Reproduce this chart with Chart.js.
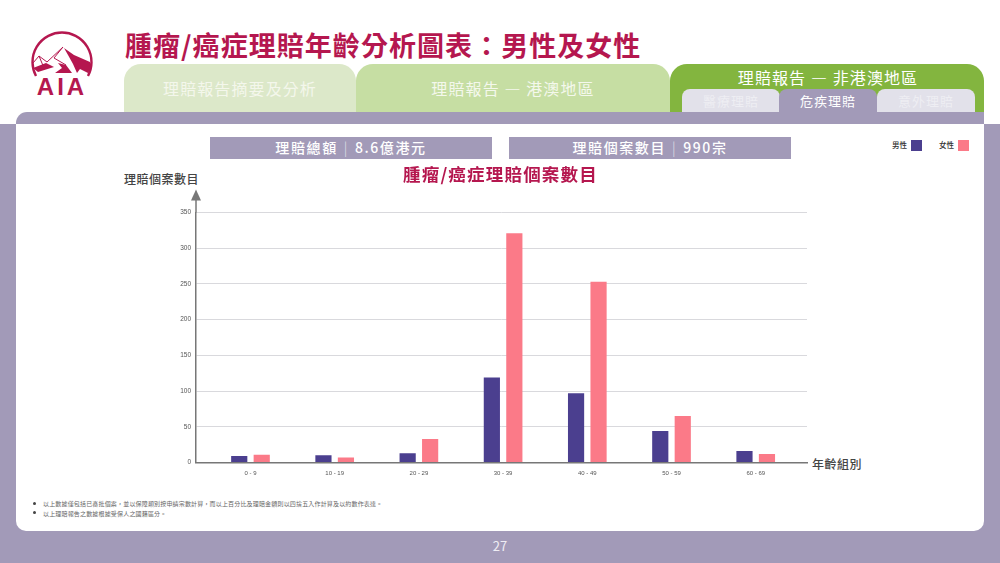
<!DOCTYPE html>
<html lang="zh-Hant">
<head>
<meta charset="utf-8">
<title>腫瘤/癌症理賠年齡分析圖表</title>
<script src="https://cdn.jsdelivr.net/npm/chart.js@4"></script>
<style>
  html, body { margin: 0; padding: 0; background: #fff; }
  body { width: 1000px; height: 563px; position: relative; overflow: hidden;
         font-family: "Noto Sans CJK TC", "Noto Sans", sans-serif; }
  .abs { position: absolute; white-space: nowrap; }
  .bg { left: 0; top: 124px; width: 1000px; height: 439px; background: #a29ab8; }
  .band { left: 16px; top: 112px; width: 968px; height: 20px; background: #a29ab8; border-radius: 11px 0 0 0; }
  .panel { left: 16px; top: 124px; width: 968px; height: 407px; background: #fff; border-radius: 0 0 10px 10px; }
  .title { left: 125px; top: 26px; font-size: 27px; line-height: 38px; font-weight: 700; color: #b5174f; letter-spacing: 1.05px; }
  .tab { text-align: center; color: #fff; border-radius: 17px 17px 0 0; }
  .t1 { left: 124px; top: 64px; width: 232px; height: 48px; line-height: 49px; background: #dce8c9; font-size: 16px; letter-spacing: 1.1px; color: #f4f7ec; }
  .t2 { left: 356px; top: 64px; width: 314px; height: 48px; line-height: 49px; background: #c6dea3; font-size: 16px; letter-spacing: 1.1px; color: #f4f8ec; }
  .t3 { left: 670px; top: 64px; width: 314px; height: 48px; line-height: 26px; background: #83b53f; font-size: 16px; letter-spacing: 1.1px; text-indent: 2px; }
  .sub { top: 89px; height: 23px; width: 98px; line-height: 23px; text-align: center; font-size: 13px; letter-spacing: 1px; border-radius: 8px 8px 0 0; background: #e2e1ea; color: #eeeef3; }
  .sub.on { background: #a29ab8; color: #fff; }
  .stat { top: 137px; height: 22px; line-height: 21px; background: #a29ab8; color: #fff; text-align: center; font-size: 14px; font-weight: 500; letter-spacing: 1.6px; }
  .stat i { font-style: normal; font-weight: 300; opacity: .7; margin: 0 6px; }
  .chartTitle { left: 403px; top: 161px; font-size: 17.5px; line-height: 26px; font-weight: 700; color: #b5174f; letter-spacing: 1.2px; }
  .leg { top: 139px; font-size: 7.5px; font-weight: 500; line-height: 12px; color: #333; }
  .swatch { top: 140px; width: 11px; height: 11px; }
  .axis { font-size: 12px; font-weight: 500; line-height: 16px; color: #444; letter-spacing: 0.5px; }
  .note { left: 43px; font-size: 6px; line-height: 9px; color: #666; letter-spacing: 0.17px; }
  .dot { left: 33px; width: 3px; height: 3px; border-radius: 50%; background: #444; }
  .page { left: 480px; top: 537px; width: 40px; text-align: center; font-size: 13px; line-height: 18px; color: #efedf4; }
  #chartBox { left: 0; top: 160px; width: 1000px; height: 320px; }
  #logo { left: 30px; top: 31px; }
</style>
</head>
<body>
<div class="abs bg"></div>
<div class="abs band"></div>
<div class="abs panel"></div>

<svg id="logo" class="abs" width="64" height="68" viewBox="0 0 64 68">
  <path d="M6 45 A29.5 29.5 0 1 1 58 45" fill="none" stroke="#b5174f" stroke-width="2.4"/>
  <path d="M3 32 L9 25 L17 31 L33 16 M9 25 L14 37 M33 16 L24 27 L36 34" fill="none" stroke="#b5174f" stroke-width="1"/>
  <path d="M34 17 L44 24 L60 31 L62 36 L58 42 L50 38 L47 42 L43 33 L38 24 Z" fill="#b5174f"/>
  <path d="M3 37 L16 32 L24 36 L8 41 Z M25 42 L32 37 L28 32 L36 34 L42 42 Z" fill="#b5174f"/>
  <text x="32" y="64" text-anchor="middle" font-family="Liberation Sans" font-weight="700" font-size="24" letter-spacing="3" fill="#b5174f">AIA</text>
</svg>

<div class="abs title">腫瘤/癌症理賠年齡分析圖表：男性及女性</div>
<div class="abs tab t1">理賠報告摘要及分析</div>
<div class="abs tab t2">理賠報告 — 港澳地區</div>
<div class="abs tab t3">理賠報告 — 非港澳地區</div>
<div class="abs sub" style="left:682px">醫療理賠</div>
<div class="abs sub on" style="left:779px">危疾理賠</div>
<div class="abs sub" style="left:877px">意外理賠</div>

<div class="abs stat" style="left:210px;width:282px">理賠總額<i>|</i>8.6億港元</div>
<div class="abs stat" style="left:509px;width:282px">理賠個案數目<i>|</i>990宗</div>

<div class="abs leg" style="left:892px">男性</div>
<div class="abs swatch" style="left:911px;background:#4b3f8f"></div>
<div class="abs leg" style="left:939px">女性</div>
<div class="abs swatch" style="left:958px;background:#fb7a88"></div>

<div class="abs axis" style="left:124px;top:171px">理賠個案數目</div>
<div class="abs axis" style="left:812px;top:456px">年齡組別</div>

<div id="chartBox" class="abs"><canvas id="chart"></canvas></div>
<div class="abs chartTitle">腫瘤/癌症理賠個案數目</div>

<div class="abs dot" style="top:502px"></div>
<div class="abs note" style="top:499px">以上數據僅包括已審批個案，並以保障類別按申請宗數計算，而以上百分比及理賠金額則以四捨五入作計算及以約數作表達。</div>
<div class="abs dot" style="top:511px"></div>
<div class="abs note" style="top:509px">以上理賠報告之數據根據受保人之國籍區分。</div>
<div class="abs page">27</div>

<script>
const ageGroups = ['0 - 9', '10 - 19', '20 - 29', '30 - 39', '40 - 49', '50 - 59', '60 - 69'];
const maleCases = [9, 10, 13, 119, 97, 44, 16];
const femaleCases = [11, 7, 33, 321, 253, 65, 12];
const yTicks = [0, 50, 100, 150, 200, 250, 300, 350];

const maleColor = '#4b3f8f';
const femaleColor = '#fb7a88';

// x axis runs past the first and last group, so groups sit on a linear scale
function toPoints(values) {
    return values.map(function(v, i) { return { x: i, y: v }; });
}

// arrow on top of the y axis
const axisArrow = {
    id: 'axisArrow',
    afterDraw: function(chart) {
        const c = chart.ctx;
        const x = chart.chartArea.left;
        const top = chart.chartArea.top;
        c.save();
        c.strokeStyle = '#777';
        c.fillStyle = '#777';
        c.lineWidth = 1.5;
        c.beginPath();
        c.moveTo(x, top);
        c.lineTo(x, top - 14);
        c.stroke();
        c.beginPath();
        c.moveTo(x - 5, top - 12);
        c.lineTo(x + 5, top - 12);
        c.lineTo(x, top - 23);
        c.closePath();
        c.fill();
        c.restore();
    }
};

new Chart(document.getElementById('chart'), {
    type: 'bar',
    data: {
        datasets: [
            { label: '男性', data: toPoints(maleCases), backgroundColor: maleColor },
            { label: '女性', data: toPoints(femaleCases), backgroundColor: femaleColor }
        ]
    },
    plugins: [axisArrow],
    options: {
        responsive: true,
        maintainAspectRatio: false,
        animation: false,
        categoryPercentage: 0.534,
        barPercentage: 0.72,
        layout: { padding: { left: 0, right: 193, top: 52.5, bottom: 0 } },
        plugins: {
            legend: { display: false },
            tooltip: { enabled: false }
        },
        scales: {
            x: {
                type: 'linear',
                offset: false,
                min: -0.647,
                max: 6.609,
                afterBuildTicks: function(axis) {
                    axis.ticks = ageGroups.map(function(g, i) { return { value: i }; });
                },
                afterFit: function(axis) { axis.height = 17.5; },
                grid: { display: false, drawTicks: false },
                border: { color: '#777', width: 1.5 },
                ticks: {
                    autoSkip: false,
                    maxRotation: 0,
                    padding: 7,
                    color: '#555',
                    font: { family: 'Liberation Sans', size: 6 },
                    callback: function(v) { return ageGroups[v]; }
                }
            },
            y: {
                min: 0,
                max: 350,
                afterBuildTicks: function(axis) {
                    axis.ticks = yTicks.map(function(v) { return { value: v }; });
                },
                afterFit: function(axis) { axis.width = 196; },
                grid: { color: '#d9d9dd', lineWidth: 1, drawTicks: false },
                border: { color: '#777', width: 1.5 },
                ticks: {
                    padding: 5,
                    color: '#555',
                    font: { family: 'Liberation Sans', size: 6.5 }
                }
            }
        }
    }
});
</script>
</body>
</html>
